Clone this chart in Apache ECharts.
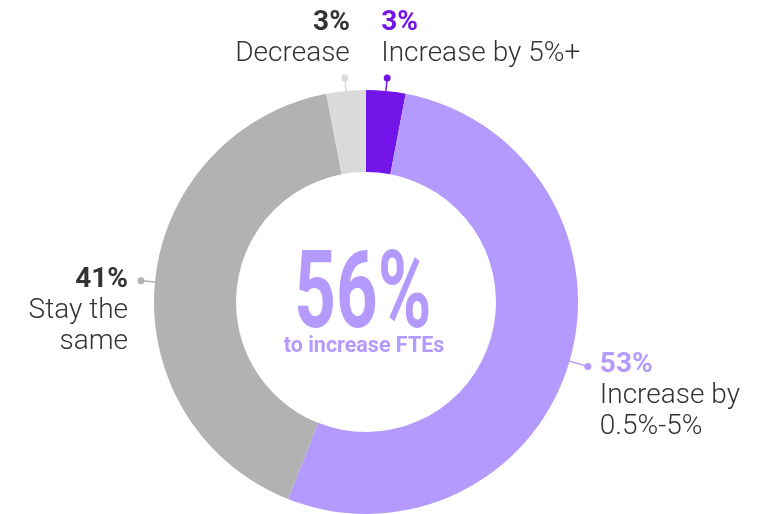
<!DOCTYPE html>
<html><head><meta charset="utf-8">
<script src="https://cdn.jsdelivr.net/npm/echarts@6/dist/echarts.min.js"></script>
<style>html,body{margin:0;padding:0;background:#fff}#c{width:769px;height:514px}</style>
</head><body><div id="c"></div>
<script>
// ---- data ----
const categories = ['Increase by 5%+', 'Increase by\n0.5%-5%', 'Stay the\nsame', 'Decrease'];
const values = [3, 53, 41, 3];
const centerValue = '56%';
const centerCaption = 'to increase FTEs';

// ---- styles ----
const sliceColors = ['#7314E8', '#B59AFE', '#B2B2B2', '#DADADA'];
const valueColors = ['#7314E8', '#B59AFE', '#333333', '#333333'];
const FONT = 'Roboto, "Liberation Sans", sans-serif';
const CX = 366, CY = 302, R_IN = 130, R_OUT = 212;
const leaderLengths = [13, 19, 14, 13];
// label text offsets from leader end: [dx, dy, align, verticalAlign]
const labelOffsets = [
  [-6, -8, 'left', 'bottom'],
  [12, -17, 'left', 'top'],
  [-13, -16, 'right', 'top'],
  [5, -8, 'right', 'bottom']
];

const rich = {};
valueColors.forEach((c, i) => {
  rich['v' + i] = {fontFamily: FONT, fontWeight: 'bold', fontSize: 28, lineHeight: 31, color: c};
});
rich.t = {fontFamily: FONT, fontWeight: 300, fontSize: 28, lineHeight: 31, color: '#333333'};

const chart = echarts.init(document.getElementById('c'), null, {renderer: 'canvas'});
chart.setOption({
  animation: false,
  series: [
    {
      type: 'pie', center: [CX, CY], radius: [R_IN, R_OUT], startAngle: 90, clockwise: true,
      avoidLabelOverlap: false, silent: true,
      data: values.map((v, i) => ({
        value: v, name: categories[i],
        itemStyle: {color: sliceColors[i]},
        labelLine: {length: leaderLengths[i], lineStyle: {color: sliceColors[i]}},
        label: {backgroundColor: sliceColors[i]}
      })),
      label: {show: true, position: 'outside', formatter: ' ', width: 7, height: 7, borderRadius: 3.5,
        padding: 0, fontSize: 1, lineHeight: 7, distanceToLabelLine: 0},
      labelLine: {show: true, length: 13, length2: 0, smooth: false, lineStyle: {width: 1.5}},
      labelLayout: p => {
        const pts = p.labelLinePoints;
        const e = pts[pts.length - 1];
        return {x: e[0], y: e[1], align: 'center', verticalAlign: 'middle', labelLinePoints: pts};
      }
    },
    {
      type: 'pie', center: [CX, CY], radius: [R_IN, R_OUT], startAngle: 90, clockwise: true,
      avoidLabelOverlap: false, silent: true, z: 3,
      itemStyle: {color: 'rgba(0,0,0,0)'},
      data: values.map((v, i) => ({value: v, name: categories[i], labelLine: {length: leaderLengths[i]}})),
      label: {show: true, position: 'outside', distanceToLabelLine: 0,
        formatter: p => '{v' + p.dataIndex + '|' + p.value + '%}\n{t|' + p.name + '}',
        rich: rich},
      labelLine: {show: true, length: 13, length2: 0, lineStyle: {color: 'rgba(0,0,0,0)', width: 0}},
      labelLayout: p => {
        const pts = p.labelLinePoints;
        const e = pts[pts.length - 1];
        const o = labelOffsets[p.dataIndex];
        return {x: e[0] + o[0], y: e[1] + o[1], align: o[2], verticalAlign: o[3], labelLinePoints: pts};
      }
    }
  ],
  graphic: [
    {type: 'text', x: CX - 3, y: CY - 2, scaleX: 0.68, silent: true,
      style: {text: centerValue, fill: '#B59AFE', font: 'bold 107px ' + FONT,
        align: 'center', verticalAlign: 'middle', textAlign: 'center', textVerticalAlign: 'middle'}},
    {type: 'text', x: CX - 2, y: CY + 45, silent: true,
      style: {text: centerCaption, fill: '#B59AFE', font: 'bold 21.5px ' + FONT,
        align: 'center', verticalAlign: 'middle', textAlign: 'center', textVerticalAlign: 'middle'}}
  ]
});
</script></body></html>
